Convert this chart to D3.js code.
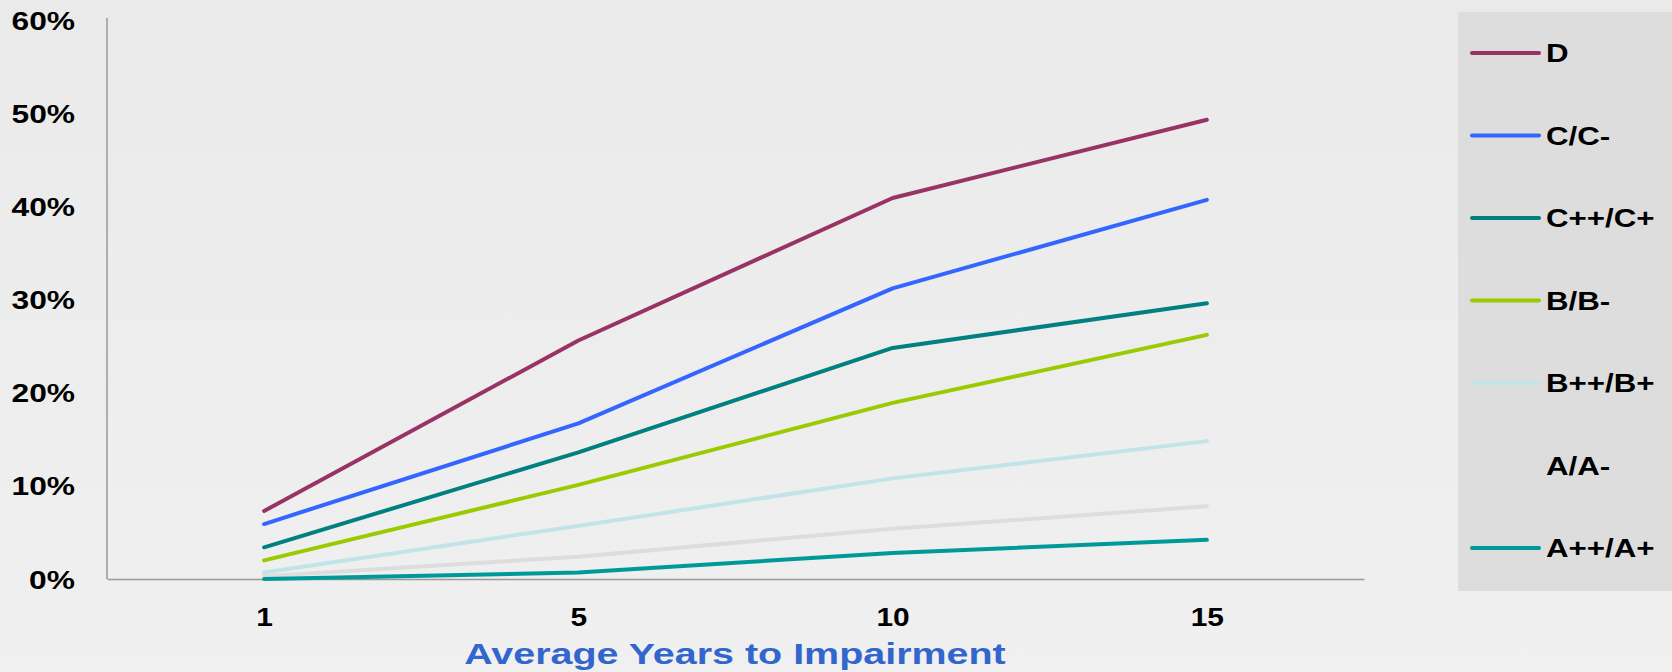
<!DOCTYPE html>
<html>
<head>
<meta charset="utf-8">
<script src="https://cdn.jsdelivr.net/npm/d3@7"></script>
<style>
  body { margin: 0; background: #ececec; }
  text { font-family: "Liberation Sans", Arial, sans-serif; font-weight: bold; }
</style>
</head>
<body>
<div id="chart"></div>
<script>
// data
var years = ["1", "5", "10", "15"];
var grades = ["D", "C/C-", "C++/C+", "B/B-", "B++/B+", "A/A-", "A++/A+"];
var colors = ["#993366", "#3366ff", "#008080", "#99cc00", "#c0e4e8", "#dddddd", "#009999"];
var dValues = [7.3, 25.6, 40.9, 49.3];
var cValues = [5.9, 16.7, 31.2, 40.7];
var cPlusValues = [3.4, 13.6, 24.8, 29.6];
var bValues = [2.0, 10.1, 18.9, 26.2];
var bPlusValues = [0.7, 5.7, 10.8, 14.8];
var aValues = [0.3, 2.4, 5.4, 7.8];
var aPlusValues = [0.0, 0.7, 2.8, 4.2];
var yTicks = [0, 10, 20, 30, 40, 50, 60];

var seriesValues = [dValues, cValues, cPlusValues, bValues, bPlusValues, aValues, aPlusValues];

//svg dimensions
var svgWidth = 1672;
var svgHeight = 672;
var plot = { left: 107, right: 1364, top: 20, bottom: 579 };

var svg = d3.select("#chart").append("svg")
    .attr("width", svgWidth)
    .attr("height", svgHeight);

//background
var grad = svg.append("defs").append("linearGradient")
    .attr("id", "bg").attr("x1", 0).attr("y1", 0).attr("x2", 0).attr("y2", 1);
grad.append("stop").attr("offset", "0%").attr("stop-color", "#eaeaea");
grad.append("stop").attr("offset", "100%").attr("stop-color", "#f0f0f0");
svg.append("rect").attr("width", svgWidth).attr("height", svgHeight).attr("fill", "url(#bg)");

//scales
var xScale = d3.scalePoint().domain(years).range([plot.left, plot.right]).padding(0.5);
var yScale = d3.scaleLinear().domain([0, 60]).range([plot.bottom, plot.top]);

//x axis
var xAxis = svg.append("g")
    .attr("transform", `translate(0, ${plot.bottom})`)
    .call(d3.axisBottom(xScale).tickSize(0).tickSizeOuter(0).tickPadding(29));
xAxis.select(".domain").attr("stroke", "#999").attr("stroke-width", 1.5);
xAxis.selectAll("text")
    .attr("font-size", 26).attr("fill", "#000")
    .attr("transform", function () { return `translate(0, ${d3.select(this).attr("y")}) scale(1.15, 1)`; })
    .attr("y", 0);

//y axis
var yAxis = svg.append("g")
    .attr("transform", `translate(${plot.left}, 0)`)
    .call(d3.axisLeft(yScale).tickValues(yTicks).tickSize(0).tickSizeOuter(0)
        .tickFormat(d => d + "%").tickPadding(32));
yAxis.select(".domain").attr("stroke", "#999").attr("stroke-width", 1.5)
    .attr("d", `M0,${plot.top - 2}V${plot.bottom}`);
yAxis.selectAll("text")
    .attr("font-size", 25).attr("fill", "#000")
    .attr("transform", "translate(-32, 1) scale(1.27, 1)")
    .attr("x", 0);

//lines
var line = d3.line()
    .x((d, i) => xScale(years[i]))
    .y(d => yScale(d));

var order = [5, 4, 3, 2, 1, 0, 6];
svg.append("g").selectAll("path")
    .data(order)
    .enter()
    .append("path")
    .attr("d", i => line(seriesValues[i]))
    .attr("fill", "none")
    .attr("stroke", i => colors[i])
    .attr("stroke-width", 4)
    .attr("stroke-linecap", "round")
    .attr("stroke-linejoin", "round");

//x axis title
svg.append("text")
    .attr("transform", "translate(735, 664) scale(1.36, 1)")
    .attr("text-anchor", "middle")
    .attr("font-size", 29)
    .attr("fill", "#3366cc")
    .text("Average Years to Impairment");

//legend
var legend = svg.append("g");
legend.append("rect")
    .attr("x", 1458).attr("y", 12)
    .attr("width", svgWidth - 1458).attr("height", 579)
    .attr("fill", "#dddddd");
var rows = legend.selectAll(".row")
    .data(grades)
    .enter()
    .append("g")
    .attr("transform", (d, i) => `translate(0, ${53 + i * 82.5})`);
rows.append("line")
    .attr("x1", 1472).attr("x2", 1539)
    .attr("stroke", (d, i) => colors[i])
    .attr("stroke-width", 4)
    .attr("stroke-linecap", "round");
rows.append("text")
    .attr("transform", "translate(1546, 0) scale(1.25, 1)")
    .attr("dy", "0.36em")
    .attr("font-size", 25)
    .attr("fill", "#000")
    .text(d => d);
</script>
</body>
</html>
